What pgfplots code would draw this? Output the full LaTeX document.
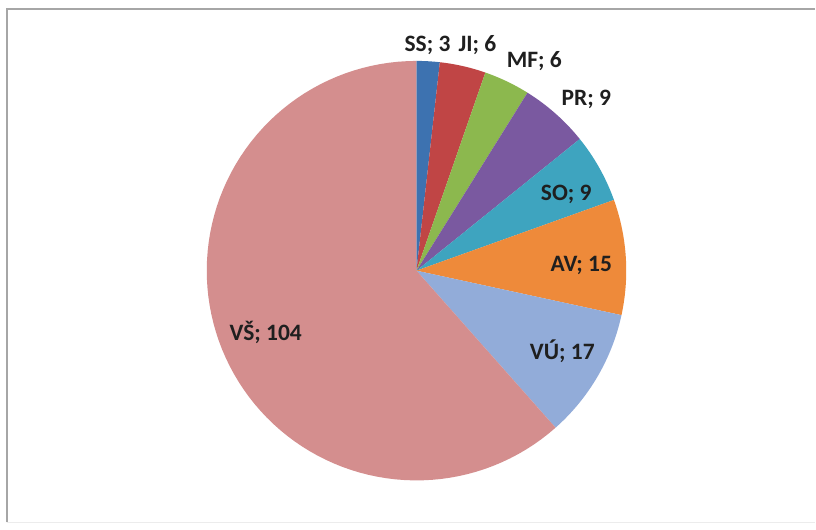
\documentclass[border=0pt]{standalone}
\usepackage{pgfplots}
\pgfplotsset{compat=1.18}
\usepackage{fontspec}
\setmainfont{Carlito}
\definecolor{ssc}{HTML}{3D72B0}
\definecolor{jic}{HTML}{C04545}
\definecolor{mfc}{HTML}{8CB84E}
\definecolor{prc}{HTML}{7A59A0}
\definecolor{soc}{HTML}{3EA4BF}
\definecolor{avc}{HTML}{EE8A3A}
\definecolor{vuc}{HTML}{92ACD9}
\definecolor{vsc}{HTML}{D48E8E}
\def\cx{417}
\def\cy{259}
\def\r{210}
\pgfmathsetmacro\total{3+6+6+9+9+15+17+104}
\gdef\cum{0}
\newcommand\slice[2]{%
  \pgfmathsetmacro\astart{90-(\cum/\total)*360}%
  \pgfmathsetmacro\newcum{\cum+#1}%
  \xdef\cum{\newcum}%
  \pgfmathsetmacro\aend{90-(\cum/\total)*360}%
  \edef\doslice{\noexpand\addplot[draw=none, fill=#2, domain=\aend:\astart, samples=90]
    ({\cx+\r*cos(x)},{\cy+\r*sin(x)}) -- (axis cs:\cx,\cy) -- cycle;}%
  \doslice
}
\begin{document}
\begin{tikzpicture}
\begin{axis}[
  width=816pt, height=530pt, scale only axis,
  xmin=0, xmax=816, ymin=0, ymax=530,
  hide axis, clip=false,
]
\fill[white] (axis cs:0,0) rectangle (axis cs:816,530);
% frame
\draw[gray!15, line width=1pt] (axis cs:7,7) -- (axis cs:816,7);
\draw[gray!70, line width=2pt] (axis cs:7,7) -- (axis cs:7,521) -- (axis cs:816,521);
% slices (clockwise from 12 o'clock)
\slice{3}{ssc}
\slice{6}{jic}
\slice{6}{mfc}
\slice{9}{prc}
\slice{9}{soc}
\slice{15}{avc}
\slice{17}{vuc}
\slice{104}{vsc}
% labels
\begin{scope}[every node/.style={font=\fontsize{23.5}{25}\selectfont\bfseries, text=black!88, inner sep=0pt}]
\node at (axis cs:428,485) {SS; 3};
\node at (axis cs:478,485) {JI; 6};
\node at (axis cs:535,469) {MF; 6};
\node at (axis cs:587,430) {PR; 9};
\node at (axis cs:567,335) {SO; 9};
\node at (axis cs:582,264) {AV; 15};
\node at (axis cs:563,178) {VÚ; 17};
\node at (axis cs:266,197) {VŠ; 104};
\end{scope}
\end{axis}
\end{tikzpicture}
\end{document}
